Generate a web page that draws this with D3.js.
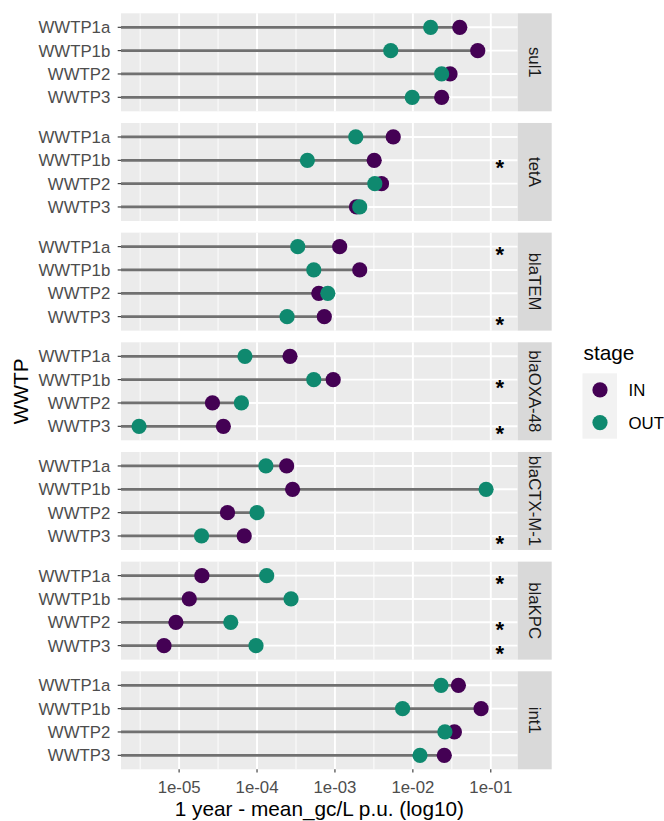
<!DOCTYPE html>
<html>
<head>
<meta charset="utf-8">
<script src="https://cdn.jsdelivr.net/npm/d3@7"></script>
<style>
  html, body { margin: 0; padding: 0; background: #fff; }
  svg text { font-family: "Liberation Sans", Arial, Helvetica, sans-serif; }
</style>
</head>
<body>
<svg id="chart" width="664" height="821"></svg>
<script>
// ---------------- data ----------------
const genes = ["sul1", "tetA", "blaTEM", "blaOXA-48", "blaCTX-M-1", "blaKPC", "int1"];
const sites = ["WWTP1a", "WWTP1b", "WWTP2", "WWTP3"];
const stages = ["IN", "OUT"];
const stageColors = ["#440154", "#0F896F"];

// rows: genes, columns: sites
const inValues = [
  [0.040, 0.068, 0.030, 0.0234],
  [0.0056, 0.00319, 0.00396, 0.00189],
  [0.00115, 0.00208, 0.00062, 0.00073],
  [2.65e-4, 9.5e-4, 2.68e-5, 3.7e-5],
  [2.4e-4, 2.86e-4, 4.18e-5, 6.85e-5],
  [1.96e-5, 1.35e-5, 9.1e-6, 6.4e-6],
  [0.0384, 0.075, 0.0341, 0.0253]
];
const outValues = [
  [0.0169, 0.0052, 0.0234, 0.0098],
  [0.00185, 0.000443, 0.00325, 0.00208],
  [0.000333, 0.000535, 0.00081, 0.000243],
  [7.0e-5, 5.35e-4, 6.3e-5, 3.06e-6],
  [1.30e-4, 0.087, 1.0e-4, 1.94e-5],
  [1.33e-4, 2.73e-4, 4.6e-5, 9.7e-5],
  [0.023, 0.00738, 0.0258, 0.01234]
];
// 1 = significant (asterisk)
const signif = [
  [0, 0, 0, 0],
  [0, 1, 0, 0],
  [1, 0, 0, 1],
  [0, 1, 0, 1],
  [0, 0, 0, 1],
  [1, 0, 1, 1],
  [0, 0, 0, 0]
];
const signifPosition = 0.13;
const xTicks = [1e-5, 1e-4, 1e-3, 1e-2, 1e-1];
const xTickLabels = ["1e-05", "1e-04", "1e-03", "1e-02", "1e-01"];
const xTitle = "1 year - mean_gc/L p.u. (log10)";
const yTitle = "WWTP";
const legendTitle = "stage";

// ---------------- layout ----------------
const svg = d3.select("#chart");
const PL = 121, PR = 517.7, stripW = 34;
const PT = 13.3, PB = 769.3;
const FS = 16.8;

// x scale (log) with 5% expansion like ggplot
const allVals = [].concat(...inValues, ...outValues, [signifPosition]);
const lo = Math.log10(d3.min(allVals)), hi = Math.log10(d3.max(allVals));
const ex = (hi - lo) * 0.05;
const x = d3.scaleLog().domain([Math.pow(10, lo - ex), Math.pow(10, hi + ex)]).range([PL, PR]);
const minorTicks = xTicks.map(t => t / Math.sqrt(10)).filter(t => x(t) >= PL && x(t) <= PR);

const facet = d3.scaleBand().domain(genes).range([PT, PB]).paddingInner(0.1064).paddingOuter(0);

// panels
genes.forEach((g, gi) => {
  const top = facet(g), h = facet.bandwidth();
  const y = d3.scalePoint().domain(sites).range([top, top + h]).padding(0.6);
  const p = svg.append("g");
  p.append("rect").attr("x", PL).attr("y", top).attr("width", PR - PL).attr("height", h).attr("fill", "#EBEBEB");
  // minor grid
  p.selectAll(".minor").data(minorTicks).join("line")
    .attr("x1", d => x(d)).attr("x2", d => x(d)).attr("y1", top).attr("y2", top + h)
    .attr("stroke", "#fff").attr("stroke-width", 0.9);
  // major grid
  p.selectAll(".majx").data(xTicks).join("line")
    .attr("x1", d => x(d)).attr("x2", d => x(d)).attr("y1", top).attr("y2", top + h)
    .attr("stroke", "#fff").attr("stroke-width", 1.9);
  p.selectAll(".majy").data(sites).join("line")
    .attr("x1", PL).attr("x2", PR).attr("y1", d => y(d)).attr("y2", d => y(d))
    .attr("stroke", "#fff").attr("stroke-width", 1.9);
  // strip
  p.append("rect").attr("x", PR).attr("y", top).attr("width", stripW).attr("height", h).attr("fill", "#D9D9D9");
  p.append("text").attr("transform", `translate(${PR + stripW / 2 - 6},${top + h / 2}) rotate(90)`)
    .attr("text-anchor", "middle").attr("font-size", FS).attr("fill", "#1A1A1A").text(g);
  // y axis ticks + labels
  sites.forEach(s => {
    p.append("line").attr("x1", PL - 3.3).attr("x2", PL).attr("y1", y(s)).attr("y2", y(s))
      .attr("stroke", "#333").attr("stroke-width", 1.1);
    p.append("text").attr("x", PL - 10.7).attr("y", y(s)).attr("dy", "0.36em")
      .attr("text-anchor", "end").attr("font-size", FS).attr("fill", "#4D4D4D").text(s);
  });
  // segments from panel edge to max value
  sites.forEach((s, si) => {
    const mx = Math.max(inValues[gi][si], outValues[gi][si]);
    p.append("line").attr("x1", PL).attr("x2", x(mx)).attr("y1", y(s)).attr("y2", y(s))
      .attr("stroke", "#707070").attr("stroke-width", 2.7);
  });
  // points: IN then OUT
  [inValues, outValues].forEach((vals, k) => {
    sites.forEach((s, si) => {
      p.append("circle").attr("cx", x(vals[gi][si])).attr("cy", y(s)).attr("r", 7.6)
        .attr("fill", stageColors[k]);
    });
  });
  // asterisks
  sites.forEach((s, si) => {
    if (signif[gi][si]) {
      p.append("text").attr("x", x(signifPosition)).attr("y", y(s) + 15)
        .attr("text-anchor", "middle").attr("font-size", 22).attr("font-weight", "bold")
        .attr("fill", "#000").text("*");
    }
  });
});

// x axis
const ax = svg.append("g");
xTicks.forEach((t, i) => {
  ax.append("line").attr("x1", x(t)).attr("x2", x(t)).attr("y1", PB).attr("y2", PB + 3.3)
    .attr("stroke", "#333").attr("stroke-width", 1.1);
  ax.append("text").attr("x", x(t)).attr("y", 793.3).attr("text-anchor", "middle")
    .attr("font-size", FS).attr("fill", "#4D4D4D").text(xTickLabels[i]);
});
svg.append("text").attr("x", (PL + PR) / 2).attr("y", 816).attr("text-anchor", "middle")
  .attr("font-size", 20.8).attr("fill", "#000").text(xTitle);
svg.append("text").attr("transform", `translate(27.5,${(PT + PB) / 2}) rotate(-90)`)
  .attr("text-anchor", "middle").attr("font-size", 20.8).attr("fill", "#000").text(yTitle);

// legend
const lg = svg.append("g");
lg.append("text").attr("x", 583.5).attr("y", 360).attr("font-size", 20.8).attr("fill", "#000").text(legendTitle);
stages.forEach((st, i) => {
  const ky = 373.3 + i * 32.7;
  lg.append("rect").attr("x", 582.5).attr("y", ky).attr("width", 34.5).attr("height", 32.7).attr("fill", "#F2F2F2");
  lg.append("circle").attr("cx", 600).attr("cy", ky + 16.6).attr("r", 7.6).attr("fill", stageColors[i]);
  lg.append("text").attr("x", 628.5).attr("y", ky + 16.6).attr("dy", "0.36em").attr("font-size", FS)
    .attr("fill", "#000").text(st);
});
</script>
</body>
</html>
